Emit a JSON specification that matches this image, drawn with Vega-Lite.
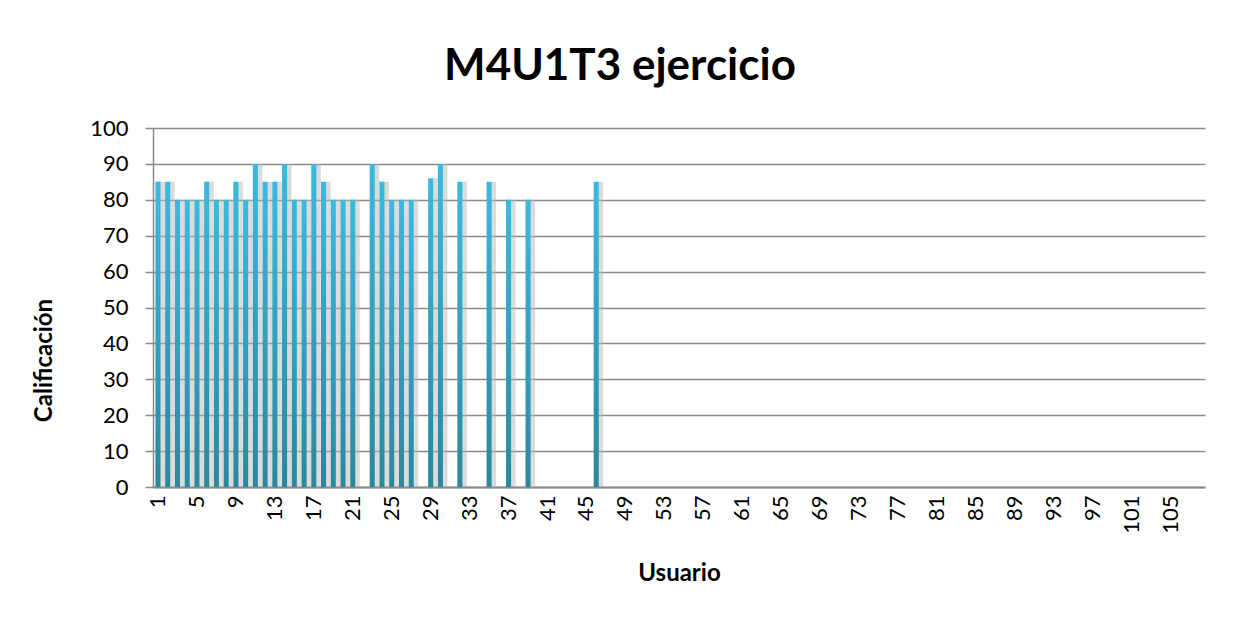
{
  "$schema": "https://vega.github.io/schema/vega-lite/v6.json",
  "width": 1052,
  "height": 359,
  "autosize": "none",
  "padding": {"left": 153, "top": 128, "right": 36, "bottom": 134},
  "background": "white",
  "title": {
    "text": "M4U1T3 ejercicio",
    "font": "Lato",
    "fontSize": 44,
    "fontWeight": "bold",
    "color": "#000000",
    "anchor": "middle",
    "dx": -59,
    "offset": 28
  },
  "data": {
    "values": [
      {"u": 1, "v": 85}, {"u": 2, "v": 85}, {"u": 3, "v": 80}, {"u": 4, "v": 80},
      {"u": 5, "v": 80}, {"u": 6, "v": 85}, {"u": 7, "v": 80}, {"u": 8, "v": 80},
      {"u": 9, "v": 85}, {"u": 10, "v": 80}, {"u": 11, "v": 90}, {"u": 12, "v": 85},
      {"u": 13, "v": 85}, {"u": 14, "v": 90}, {"u": 15, "v": 80}, {"u": 16, "v": 80},
      {"u": 17, "v": 90}, {"u": 18, "v": 85}, {"u": 19, "v": 80}, {"u": 20, "v": 80},
      {"u": 21, "v": 80}, {"u": 23, "v": 90}, {"u": 24, "v": 85}, {"u": 25, "v": 80},
      {"u": 26, "v": 80}, {"u": 27, "v": 80}, {"u": 29, "v": 86}, {"u": 30, "v": 90},
      {"u": 32, "v": 85}, {"u": 35, "v": 85}, {"u": 37, "v": 80}, {"u": 39, "v": 80},
      {"u": 46, "v": 85}
    ]
  },
  "encoding": {
    "x": {
      "field": "u",
      "type": "ordinal",
      "scale": {
        "domain": [1,2,3,4,5,6,7,8,9,10,11,12,13,14,15,16,17,18,19,20,21,22,23,24,25,26,27,28,29,30,31,32,33,34,35,36,37,38,39,40,41,42,43,44,45,46,47,48,49,50,51,52,53,54,55,56,57,58,59,60,61,62,63,64,65,66,67,68,69,70,71,72,73,74,75,76,77,78,79,80,81,82,83,84,85,86,87,88,89,90,91,92,93,94,95,96,97,98,99,100,101,102,103,104,105,106,107,108],
        "paddingInner": 0.48,
        "paddingOuter": 0.25
      },
      "axis": {
        "title": "Usuario",
        "values": [1,5,9,13,17,21,25,29,33,37,41,45,49,53,57,61,65,69,73,77,81,85,89,93,97,101,105],
        "labelAngle": -90,
        "labelFont": "Lato",
        "labelFontSize": 22,
        "labelColor": "#000000",
        "labelPadding": 8,
        "ticks": false,
        "domainColor": "#8a8a8a",
        "domainWidth": 2,
        "titleFont": "Lato",
        "titleFontSize": 24,
        "titleFontWeight": "bold",
        "titleColor": "#000000",
        "titleY": 86,
        "titleBaseline": "middle",
        "grid": false
      }
    },
    "y": {
      "field": "v",
      "type": "quantitative",
      "scale": {"domain": [0, 100]},
      "axis": {
        "title": "Calificación",
        "values": [0,10,20,30,40,50,60,70,80,90,100],
        "labelFont": "Lato",
        "labelFontSize": 22,
        "labelColor": "#000000",
        "labelPadding": 17,
        "tickSize": 8,
        "tickColor": "#8a8a8a",
        "tickWidth": 1.5,
        "domainColor": "#8a8a8a",
        "domainWidth": 1.5,
        "grid": true,
        "gridColor": "#8a8a8a",
        "gridWidth": 1.5,
        "titleFont": "Lato",
        "titleFontSize": 24,
        "titleFontWeight": "bold",
        "titleColor": "#000000",
        "titleX": -109,
        "titleY": 232,
        "titleBaseline": "middle",
        "titleAngle": -90
      }
    }
  },
  "layer": [
    {
      "mark": {"type": "bar", "color": "#b8b8b8", "opacity": 0.5, "xOffset": 4, "width": 6},
      "encoding": {}
    },
    {
      "mark": {
        "type": "bar",
        "color": {
          "gradient": "linear",
          "x1": 0, "y1": 0, "x2": 0, "y2": 1,
          "stops": [
            {"offset": 0, "color": "#3bb9de"},
            {"offset": 1, "color": "#2a879e"}
          ]
        }
      },
      "encoding": {}
    }
  ],
  "config": {
    "view": {"stroke": null}
  }
}
